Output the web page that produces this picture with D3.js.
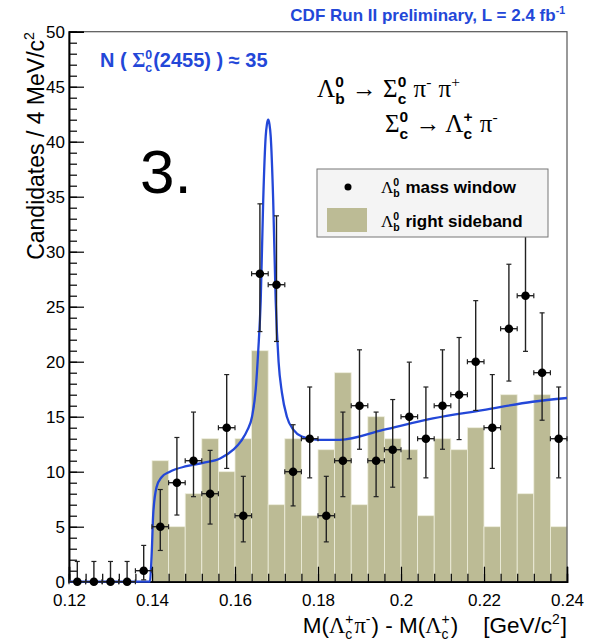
<!DOCTYPE html>
<html>
<head>
<meta charset="utf-8">
<script src="https://cdn.jsdelivr.net/npm/d3@7"></script>
<style>
  body { margin: 0; background: #fff; }
  svg text { white-space: pre; }
</style>
</head>
<body>
<div id="chart"></div>
<script>
// data
const binLow = [0.120, 0.124, 0.128, 0.132, 0.136, 0.140, 0.144, 0.148, 0.152, 0.156,
                0.160, 0.164, 0.168, 0.172, 0.176, 0.180, 0.184, 0.188, 0.192, 0.196,
                0.200, 0.204, 0.208, 0.212, 0.216, 0.220, 0.224, 0.228, 0.232, 0.236];
const binWidth = 0.004;
const sideband = [0, 0, 0, 0, 0, 11, 5, 8, 13, 10, 13, 21, 7, 13, 6, 12, 19, 7, 15, 13,
                  12, 6, 13, 12, 14, 5, 17, 8, 17, 5];
const massWindow = [0, 0, 0, 0, 1, 5, 9, 11, 8, 14, 6, 28, 27, 10, 13, 6, 11, 16, 11, 12,
                    15, 13, 16, 17, 20, 14, 23, 26, 19, 13];
const errLow = [0, 0, 0, 0, 0.17, 2.84, 6.06, 7.73, 5.24, 10.30, 3.62, 22.74, 21.84, 6.89, 9.44,
                3.62, 7.73, 12.04, 7.73, 8.59, 11.17, 9.44, 12.04, 12.92, 15.57, 10.30, 18.24, 20.94, 14.68, 9.44];
const errHigh = [1.84, 1.84, 1.84, 1.84, 3.30, 8.38, 13.11, 15.42, 11.94, 18.83, 9.58, 34.35, 33.26, 14.27, 17.70,
                 9.58, 15.42, 21.08, 15.42, 16.56, 19.96, 17.70, 21.08, 22.20, 25.55, 18.83, 28.86, 32.16, 24.44, 17.70];
// fit curve
const fitX = [0.1200, 0.1395, 0.1399, 0.1403, 0.1411, 0.1423, 0.1443, 0.1483, 0.1523, 0.1564,
              0.1596, 0.1615, 0.1630, 0.1641, 0.1650, 0.1656, 0.1662, 0.1668, 0.1674, 0.1677,
              0.1680, 0.1683, 0.1686, 0.1692, 0.1698, 0.1705, 0.1713, 0.1725, 0.1741, 0.1761,
              0.1800, 0.1853, 0.1957, 0.2077, 0.2197, 0.2317, 0.2400];
const fitY = [0, 0, 2.3, 6.2, 8.6, 9.5, 10.0, 10.5, 10.8, 11.2,
              12.0, 12.8, 13.8, 15.0, 17.5, 21.0, 25.6, 34.7, 40.5, 41.6,
              42.0, 41.6, 40.5, 34.7, 25.6, 20.0, 17.2, 15.0, 13.8, 13.2,
              12.9, 12.9, 13.8, 14.85, 15.6, 16.36, 16.7];
const xTicks = [0.12, 0.14, 0.16, 0.18, 0.2, 0.22, 0.24];
const yTicks = [0, 5, 10, 15, 20, 25, 30, 35, 40, 45, 50];

// constants
const W = 595, H = 643;
const mLeft = 69, mRight = 567, mTop = 31.7, mBottom = 581.7;
const sans = "'Liberation Sans', Arial, Helvetica, sans-serif";
const serif = "'Liberation Serif', 'Times New Roman', serif";
const blue = "#2347d8";
const barColor = "#bcbb95";

const svg = d3.select("#chart").append("svg").attr("width", W).attr("height", H);

// scales
const xScale = d3.scaleLinear().domain([0.12, 0.24]).range([mLeft, mRight]);
const yScale = d3.scaleLinear().domain([0, 50]).range([mBottom, mTop]);

// rich text helper: strings, {t, font, weight} or {sup, sub}
function rich(x, y, parts, o) {
  const g = svg.append("g");
  const fs = o.size;
  let cx = 0;
  parts.forEach(p => {
    if (typeof p === "string") p = { t: p };
    if (p.t !== undefined) {
      const t = g.append("text")
        .attr("x", cx).attr("y", 0)
        .style("font-family", p.font || o.font)
        .style("font-size", (p.size || fs) + "px")
        .style("font-weight", p.weight || o.weight || "normal")
        .attr("fill", o.color || "#000")
        .text(p.t);
      cx += t.node().getComputedTextLength();
    } else {
      let w = 0;
      const sfs = fs * 0.62;
      if (p.sup) {
        const t = g.append("text").attr("x", cx).attr("y", -0.42 * fs)
          .style("font-family", p.font || o.font).style("font-size", sfs + "px")
          .style("font-weight", p.weight || o.weight || "normal")
          .attr("fill", o.color || "#000").text(p.sup);
        w = Math.max(w, t.node().getComputedTextLength());
      }
      if (p.sub) {
        const t = g.append("text").attr("x", cx).attr("y", 0.26 * fs)
          .style("font-family", p.font || o.font).style("font-size", sfs + "px")
          .style("font-weight", p.weight || o.weight || "normal")
          .attr("fill", o.color || "#000").text(p.sub);
        w = Math.max(w, t.node().getComputedTextLength());
      }
      cx += w + 1;
    }
  });
  const dx = o.anchor === "end" ? -cx : o.anchor === "middle" ? -cx / 2 : 0;
  g.attr("transform", `translate(${x},${y}) rotate(${o.rotate || 0}) translate(${dx},0)`);
  return g;
}

// sideband histogram
svg.append("g")
  .selectAll("rect")
  .data(binLow.map((b, i) => ({ b: b, v: sideband[i] })).filter(d => d.v > 0))
  .enter()
  .append("rect")
  .attr("x", d => xScale(d.b))
  .attr("y", d => yScale(d.v))
  .attr("width", d => xScale(d.b + binWidth) - xScale(d.b))
  .attr("height", d => yScale(0) - yScale(d.v))
  .attr("fill", barColor)
  .attr("stroke", "#eeeedd")
  .attr("stroke-width", 0.8);

// frame
svg.append("rect")
  .attr("x", mLeft).attr("y", mTop)
  .attr("width", mRight - mLeft).attr("height", mBottom - mTop)
  .attr("fill", "none").attr("stroke", "#555").attr("stroke-width", 1.2);

// axes
const yMajor = d3.axisLeft(yScale).tickValues(yTicks).tickSize(-15).tickPadding(4).tickFormat(d3.format("d"));
const yMinor = d3.axisLeft(yScale).tickValues(d3.range(0, 51, 1)).tickSize(-8).tickFormat("");
const xMajor = d3.axisBottom(xScale).tickValues(xTicks).tickSize(-15).tickPadding(12).tickFormat(d => String(+d.toFixed(3)));
const xMinor = d3.axisBottom(xScale).tickValues(binLow).tickSize(-8).tickFormat("");

[[yMinor, "translate(" + mLeft + ",0)"], [yMajor, "translate(" + mLeft + ",0)"],
 [xMinor, "translate(0," + mBottom + ")"], [xMajor, "translate(0," + mBottom + ")"]].forEach(a => {
  const g = svg.append("g").attr("transform", a[1]).call(a[0]);
  g.select(".domain").attr("stroke", "#000").attr("stroke-width", 1.5);
  g.selectAll(".tick line").attr("stroke", "#000").attr("stroke-width", 1.2);
  g.selectAll(".tick text").attr("fill", "#000")
    .style("font-family", sans).style("font-size", "17px");
});

// fit curve
const line = d3.line()
  .x((d, i) => xScale(fitX[i]))
  .y(d => yScale(d))
  .curve(d3.curveMonotoneX);
svg.append("path")
  .attr("d", line(fitY))
  .attr("fill", "none")
  .attr("stroke", blue)
  .attr("stroke-width", 2.3);

// data points with error bars
const pts = svg.append("g").selectAll("g")
  .data(massWindow.map((v, i) => ({ x: binLow[i] + binWidth / 2, v: v, lo: errLow[i], hi: errHigh[i] })))
  .enter().append("g");
pts.append("line")
  .attr("x1", d => xScale(d.x)).attr("x2", d => xScale(d.x))
  .attr("y1", d => yScale(d.lo)).attr("y2", d => yScale(d.hi))
  .attr("stroke", "#222").attr("stroke-width", 1.4);
pts.append("line")
  .attr("x1", d => xScale(d.x) - 2.5).attr("x2", d => xScale(d.x) + 2.5)
  .attr("y1", d => yScale(d.hi)).attr("y2", d => yScale(d.hi))
  .attr("stroke", "#222").attr("stroke-width", 1.2);
pts.append("line")
  .attr("x1", d => xScale(d.x) - 2.5).attr("x2", d => xScale(d.x) + 2.5)
  .attr("y1", d => yScale(d.lo)).attr("y2", d => yScale(d.lo))
  .attr("stroke", "#222").attr("stroke-width", 1.2);
pts.append("line")
  .attr("x1", d => xScale(d.x - binWidth / 2)).attr("x2", d => xScale(d.x + binWidth / 2))
  .attr("y1", d => yScale(d.v)).attr("y2", d => yScale(d.v))
  .attr("stroke", "#222").attr("stroke-width", 1.4);
[-1, 1].forEach(s => {
  pts.append("line")
    .attr("x1", d => xScale(d.x + s * binWidth / 2)).attr("x2", d => xScale(d.x + s * binWidth / 2))
    .attr("y1", d => yScale(d.v) - 2.5).attr("y2", d => yScale(d.v) + 2.5)
    .attr("stroke", "#222").attr("stroke-width", 1.2);
});
pts.append("circle")
  .attr("cx", d => xScale(d.x)).attr("cy", d => yScale(d.v))
  .attr("r", 4.3).attr("fill", "#000");

// legend
const lg = svg.append("g");
lg.append("rect").attr("x", 317).attr("y", 169).attr("width", 231).attr("height", 68)
  .attr("fill", "#f4f4f4").attr("stroke", "#777").attr("stroke-width", 1);
lg.append("circle").attr("cx", 348).attr("cy", 187).attr("r", 3.5).attr("fill", "#000");
lg.append("rect").attr("x", 327).attr("y", 208).attr("width", 40).attr("height", 24)
  .attr("fill", barColor);
rich(381, 193, [{ t: "Λ", font: serif, weight: "normal" }, { sup: "0", sub: "b" }, " mass window"],
  { size: 17, font: sans, weight: "bold" });
rich(381, 227, [{ t: "Λ", font: serif, weight: "normal" }, { sup: "0", sub: "b" }, " right sideband"],
  { size: 17, font: sans, weight: "bold" });

// texts
rich(566, 21, ["CDF Run II preliminary, L = 2.4 fb", { sup: "-1" }],
  { size: 17, font: sans, weight: "bold", color: blue, anchor: "end" });
rich(100, 67, ["N ( ", { t: "Σ", font: serif }, { sup: "0", sub: "c" }, "(2455) ) ≈ 35"],
  { size: 20, font: sans, weight: "bold", color: blue });
rich(317, 97, ["Λ", { sup: "0", sub: "b", font: sans, weight: "bold" }, " → Σ", { sup: "0", sub: "c", font: sans, weight: "bold" },
  " π", { sup: "-" }, " π", { sup: "+" }], { size: 25, font: serif });
rich(385, 132, ["Σ", { sup: "0", sub: "c", font: sans, weight: "bold" }, " → Λ", { sup: "+", sub: "c", font: sans, weight: "bold" },
  " π", { sup: "-" }], { size: 25, font: serif });
svg.append("text").attr("x", 140).attr("y", 193)
  .style("font-family", sans).style("font-size", "62px").text("3.");

// axis titles
rich(567, 633, ["M(", { t: "Λ", font: serif }, { sup: "+", sub: "c" }, { t: "π", font: serif }, { sup: "-" },
  ") - M(", { t: "Λ", font: serif }, { sup: "+", sub: "c" }, ")    [GeV/c", { sup: "2" }, "]"],
  { size: 22.5, font: sans, anchor: "end" });
rich(44, 31, ["Candidates / 4 MeV/c", { sup: "2" }],
  { size: 23, font: sans, anchor: "end", rotate: -90 });
</script>
</body>
</html>
